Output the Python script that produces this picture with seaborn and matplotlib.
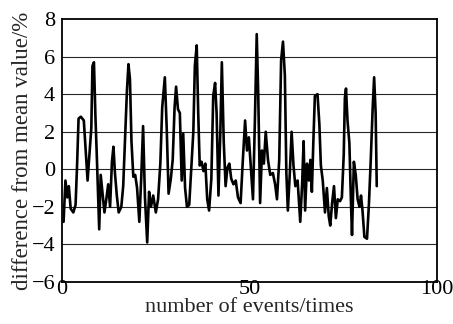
import matplotlib
matplotlib.use("Agg")
import matplotlib.pyplot as plt
import seaborn as sns
import pandas as pd

event_x = [0.4, 0.9, 1.4, 1.8, 2.3, 3.0, 3.6, 4.0, 4.4, 5.0, 5.8, 6.3, 6.8, 7.3, 7.8, 8.1, 8.5, 8.9, 9.3, 9.9,
           10.3, 10.8, 11.3, 11.8, 12.3, 12.8, 13.3, 13.7, 14.1, 14.6, 15.1, 15.8, 16.3, 16.8, 17.3, 17.7, 18.1, 18.5, 19.0, 19.5,
           20.0, 20.6, 21.1, 21.6, 22.1, 22.7, 23.2, 23.7, 24.3, 25.0, 25.6, 26.2, 26.7, 27.4, 27.9, 28.4, 29.0, 29.5,
           30.0, 30.4, 30.9, 31.4, 31.9, 32.3, 32.8, 33.3, 33.9, 34.5, 35.0, 35.4, 35.9, 36.3, 36.7, 37.2, 37.7, 38.2, 38.7, 39.2, 39.8,
           40.3, 40.8, 41.2, 41.7, 42.2, 42.6, 43.1, 43.6, 44.1, 44.6, 45.1, 45.7, 46.3, 46.9, 47.6, 48.2, 48.8, 49.3, 49.8,
           50.3, 50.9, 51.4, 51.9, 52.3, 52.8, 53.3, 53.8, 54.3, 54.9, 55.5, 56.2, 56.8, 57.3, 57.9, 58.4, 58.9, 59.4, 59.8,
           60.2, 60.7, 61.2, 61.7, 62.2, 62.8, 63.5, 64.0, 64.4, 64.8, 65.3, 65.8, 66.2, 66.6, 67.0, 67.4, 68.1, 68.6, 69.0, 69.5,
           70.1, 70.6, 71.1, 71.5, 72.0, 72.5, 73.0, 73.5, 74.1, 74.6, 75.1, 75.4, 75.7, 76.1, 76.6, 77.0, 77.3, 77.8, 78.3, 78.8, 79.3, 79.7,
           80.1, 80.6, 81.3, 81.8, 82.3, 82.8, 83.2, 83.6, 83.9]
diff_pct = [-2.8, -0.6, -1.5, -0.9, -2.1, -2.3, -1.9, 0.2, 2.7, 2.8, 2.6, 1.0, -0.6, 0.8, 2.2, 5.5, 5.7, 2.8, 0.5, -3.2,
            -0.3, -1.3, -2.3, -1.6, -0.8, -2.0, 0.4, 1.2, -0.2, -1.4, -2.3, -2.0, -0.9, 1.6, 4.2, 5.6, 4.8, 1.5, -0.4, -0.3,
            -1.0, -2.8, -0.5, 2.3, -1.5, -3.9, -1.2, -2.0, -1.4, -2.3, -1.6, 0.3, 3.3, 4.9, 2.2, -1.3, -0.5, 0.5,
            3.3, 4.4, 3.2, 3.0, -0.6, 1.9, -1.0, -2.0, -1.9, 0.2, 2.0, 5.5, 6.6, 3.0, 0.2, 0.4, -0.1, 0.3, -1.6, -2.2, -0.5,
            3.9, 4.6, 3.0, -1.4, 2.0, 5.7, 1.5, -0.9, 0.1, 0.3, -0.5, -0.8, -0.6, -1.5, -1.8, 0.5, 2.6, 1.0, 1.7,
            0.2, -1.6, 2.5, 7.2, 4.0, -1.8, 1.0, 0.3, 2.0, 0.5, -0.3, -0.2, -0.8, -1.6, 0.5, 5.8, 6.8, 5.0, -0.2,
            -2.2, -0.3, 2.0, 0.2, -0.9, -0.6, -2.8, -0.8, 1.5, -2.2, 0.3, -0.6, 0.5, -1.2, 1.5, 3.9, 4.0, 2.4, 0.2, -0.6,
            -2.3, -1.0, -2.5, -3.0, -1.8, -0.9, -2.6, -1.6, -1.7, -1.5, 0.8, 3.8, 4.3, 2.6, 1.4, -1.6, -3.5, 0.4, -0.3, -1.6, -2.0, -1.4,
            -2.2, -3.6, -3.7, -1.9, 0.5, 3.2, 4.9, 3.0, -0.9]

x_ticks = [0, 50, 100]
y_ticks = [-6, -4, -2, 0, 2, 4, 6, 8]

sns.set_style("white")
plt.rcParams['font.family'] = ['Liberation Serif', 'DejaVu Serif']

df = pd.DataFrame({"x": event_x, "y": diff_pct})

fig = plt.figure(figsize=(4.53, 3.24), dpi=100)
ax = fig.add_axes([0.137, 0.13, 0.828, 0.811])

for yv in y_ticks[1:-1]:
    ax.axhline(yv, color='0.15', lw=0.8, zorder=1)

sns.lineplot(data=df, x="x", y="y", ax=ax, color='black', lw=1.9, sort=False, zorder=3)

ax.set_xlim(0, 100)
ax.set_ylim(-6, 8)
ax.set_xticks(x_ticks)
ax.set_yticks(y_ticks)
ax.tick_params(axis='both', labelsize=16, length=0, colors='black')
ax.tick_params(axis='x', pad=-1)
ax.tick_params(axis='y', pad=5)
ax.set_xlabel("number of events/times", fontsize=16, labelpad=-1)
ax.set_ylabel("difference from mean value/%", fontsize=16.5, labelpad=-1)
for s in ax.spines.values():
    s.set_color('black')
    s.set_linewidth(1.3)

fig.savefig("out.png", dpi=100)
